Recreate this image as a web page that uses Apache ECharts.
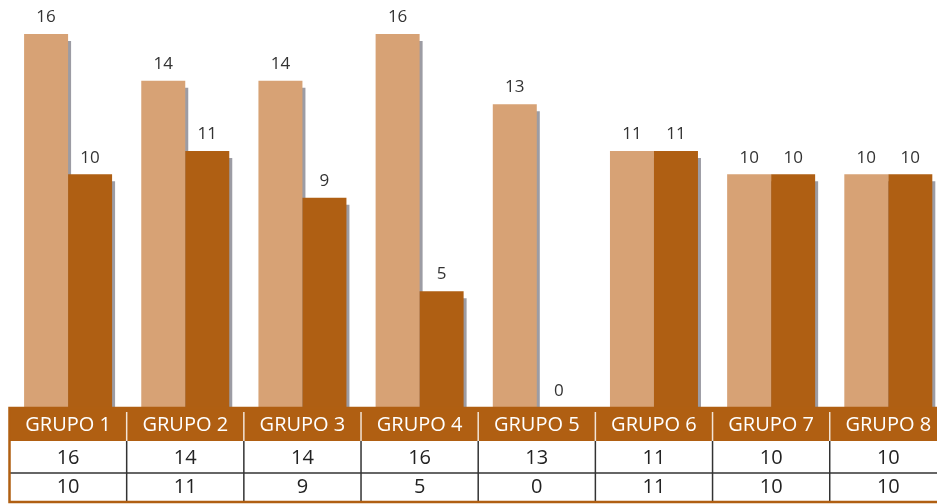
<!DOCTYPE html>
<html><head><meta charset="utf-8">
<script src="https://cdn.jsdelivr.net/npm/echarts@6/dist/echarts.min.js"></script>
<style>html,body{margin:0;padding:0;background:#fff}#c{width:937px;height:504px}</style>
</head><body><div id="c"></div>
<script>
const categories = ['GRUPO 1','GRUPO 2','GRUPO 3','GRUPO 4','GRUPO 5','GRUPO 6','GRUPO 7','GRUPO 8'];
const series1 = [16,14,14,16,13,11,10,10];
const series2 = [10,11,9,5,0,11,10,10];

const LIGHT='#D7A275', DARK='#AF5F13', HEADER='#B05F12';
const FONT='"Open Sans", "Noto Sans", sans-serif';
const chart = echarts.init(document.getElementById('c'), null, {renderer:'canvas'});
const shadow = {shadowColor:'#9c9ca4', shadowBlur:0, shadowOffsetX:3, shadowOffsetY:7};
const label = {show:true, position:'top', distance:8, color:'#333', fontFamily:FONT, fontSize:17};
chart.setOption({
  animation:false,
  grid:{left:9.5, top:34, right:-9.9, bottom:96, outerBoundsMode:'none', containLabel:false},
  xAxis:{type:'category', data:categories, axisLine:{show:false}, axisTick:{show:false}, axisLabel:{show:false}, splitLine:{show:false}},
  yAxis:{type:'value', min:0, max:16, show:false, splitLine:{show:false}},
  series:[
    {type:'bar', data:series1, barWidth:44, barGap:'0%', itemStyle:Object.assign({color:LIGHT}, shadow), label:label},
    {type:'bar', data:series2, barWidth:44, barGap:'0%', itemStyle:Object.assign({color:DARK}, shadow), label:label}
  ]
});

// Data table built from the axis scale
const c0 = chart.convertToPixel({xAxisIndex:0}, 0);
const c1 = chart.convertToPixel({xAxisIndex:0}, 1);
const band = c1 - c0;
const left = c0 - band/2;
const W = band * categories.length;
const yBase = chart.convertToPixel({yAxisIndex:0}, 0);
const hH = 33, r1 = 32, r2 = 29;
const yBottom = yBase + hH + r1 + r2;
const g = [];
g.push({type:'rect', z:100, shape:{x:left, y:yBase, width:W, height:yBottom-yBase}, style:{fill:'#fff'}});
g.push({type:'rect', z:101, shape:{x:left, y:yBase, width:W, height:hH}, style:{fill:HEADER}});
g.push({type:'line', z:102, shape:{x1:left, y1:yBase+hH+r1, x2:left+W, y2:yBase+hH+r1}, style:{stroke:'#333', lineWidth:1.5}});
for (let i=1;i<categories.length;i++){
  const x = left + i*band;
  g.push({type:'line', z:102, shape:{x1:x, y1:yBase+4, x2:x, y2:yBase+hH}, style:{stroke:'#f3e4d6', lineWidth:1.5}});
  g.push({type:'line', z:102, shape:{x1:x, y1:yBase+hH, x2:x, y2:yBottom}, style:{stroke:'#333', lineWidth:1.5}});
}
g.push({type:'rect', z:103, shape:{x:left, y:yBase, width:W, height:yBottom-yBase}, style:{fill:null, stroke:HEADER, lineWidth:2.5}});
categories.forEach((cat,i)=>{
  const cx = left + (i+0.5)*band;
  g.push({type:'text', z:104, x:cx, y:yBase+hH/2+1, style:{text:cat, fill:'#fff', font:'20px '+FONT, align:'center', verticalAlign:'middle'}});
  g.push({type:'text', z:104, x:cx, y:yBase+hH+r1/2+1, style:{text:String(series1[i]), fill:'#222', font:'20px '+FONT, align:'center', verticalAlign:'middle'}});
  g.push({type:'text', z:104, x:cx, y:yBase+hH+r1+r2/2, style:{text:String(series2[i]), fill:'#222', font:'20px '+FONT, align:'center', verticalAlign:'middle'}});
});
chart.setOption({graphic:g});
</script>
</body></html>
